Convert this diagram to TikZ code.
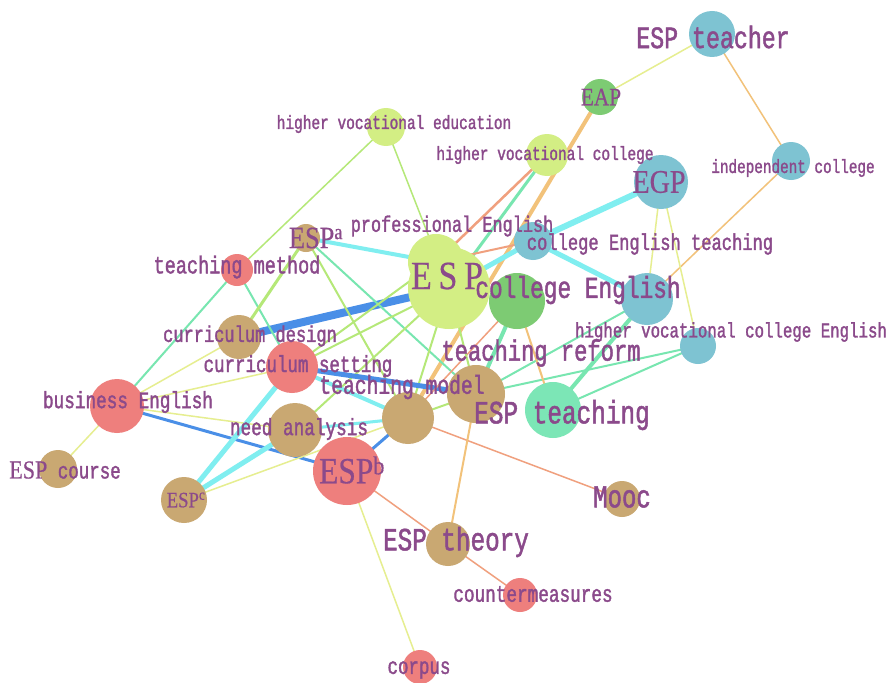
\documentclass[tikz,border=0pt]{standalone}
\usepackage{fontspec}
\setmainfont{Liberation Mono}[FakeStretch=0.75,FakeBold=1.5]
\newfontfamily\espf{Liberation Serif}[FakeStretch=0.85,FakeBold=0.5]
\definecolor{cred}{HTML}{EE7F7D}
\definecolor{ctan}{HTML}{C9A872}
\definecolor{cyg}{HTML}{D3EE84}
\definecolor{cblue}{HTML}{7EC3D2}
\definecolor{cgreen}{HTML}{7DCB73}
\definecolor{cmint}{HTML}{7CE6B6}
\definecolor{ecyan}{HTML}{80EEF0}
\definecolor{eblue}{HTML}{4A8FE7}
\definecolor{emint}{HTML}{78E6B0}
\definecolor{eyg}{HTML}{B5E878}
\definecolor{eyel}{HTML}{E6EE90}
\definecolor{eorange}{HTML}{F2C27A}
\definecolor{esalmon}{HTML}{F0A07E}
\definecolor{labc}{HTML}{8B4A8B}
\pgfdeclarelayer{bg}
\pgfsetlayers{bg,main}
\tikzset{
  dot/.style={circle,fill=#1,draw=none,inner sep=0pt},
  lbl/.style={text=labc,inner sep=0pt,font=\fontsize{#1}{#1}\selectfont},
  ed/.style args={#1/#2}{draw=#1,line width=#2pt},
}
\newcommand\lab[4]{\node[lbl=#3] (#1) at (#2) {#4};}
\newcommand\sesp[2]{{\espf\fontsize{#1}{#1}\selectfont #2}}
\begin{document}
\begin{tikzpicture}[x=1pt,y=-1pt]
\begin{pgfonlayer}{bg}
\fill[white] (0,0) rectangle (890,682);
\end{pgfonlayer}
\useasboundingbox (0,0) rectangle (890,682);
% circles
\path
 (712,34)  node[dot=cblue,minimum size=46pt] (tea) {}
 (600,97)  node[dot=cgreen,minimum size=36pt] (eap) {}
 (386,127) node[dot=cyg,minimum size=38pt] (hve) {}
 (547,155) node[dot=cyg,minimum size=42pt] (hvc) {}
 (791,161) node[dot=cblue,minimum size=38pt] (ind) {}
 (661,182) node[dot=cblue,minimum size=54pt] (egp) {}
 (306,238) node[dot=ctan,minimum size=28pt] (espa) {}
 (436,262) node[dot=cyg,minimum size=56pt] (prof) {}
 (533,241) node[dot=cblue,minimum size=38pt] (cet) {}
 (237,270) node[dot=cred,minimum size=32pt] (tm) {}
 (449,288) node[dot=cyg,minimum size=82pt] (esp) {}
 (517,301) node[dot=cgreen,minimum size=56pt] (ceg) {}
 (647,299) node[dot=cblue,minimum size=52pt] (ceb) {}
 (698,346) node[dot=cblue,minimum size=36pt] (hvce) {}
 (239,337) node[dot=ctan,minimum size=44pt] (cd) {}
 (292,367) node[dot=cred,minimum size=52pt] (cs) {}
 (117,406) node[dot=cred,minimum size=54pt] (be) {}
 (295,430) node[dot=ctan,minimum size=54pt] (na) {}
 (408,418) node[dot=ctan,minimum size=52pt] (tmod) {}
 (476,394) node[dot=ctan,minimum size=58pt] (tref) {}
 (553,410) node[dot=cmint,minimum size=56pt] (espt) {}
 (347,471) node[dot=cred,minimum size=68pt] (espb) {}
 (58,469)  node[dot=ctan,minimum size=38pt] (course) {}
 (184,500) node[dot=ctan,minimum size=46pt] (espc) {}
 (622,499) node[dot=ctan,minimum size=36pt] (mooc) {}
 (448,544) node[dot=ctan,minimum size=44pt] (theory) {}
 (520,595) node[dot=cred,minimum size=34pt] (counter) {}
 (420,667) node[dot=cred,minimum size=34pt] (corpus) {};
% edges
\begin{pgfonlayer}{bg}
\foreach \a/\b/\c/\w in {
 tea/eap/eyel/1.5, tea/ind/eorange/1.5, eap/tmod/eorange/4, ind/ceb/eorange/1.5,
 egp/cet/ecyan/6, cet/ceb/ecyan/5, cet/esp/ecyan/5, egp/ceb/eyel/1.5, egp/hvce/eyel/1.5,
 hvc/prof/esalmon/2.5, hvc/esp/emint/3, prof/cet/esalmon/2, hve/tm/eyg/1.5, hve/esp/eyg/1.5,
 espa/prof/ecyan/4, esp/cd/eblue/8, tm/cs/emint/2, tm/be/emint/2, espa/cd/eyg/3,
 espa/tmod/eyg/2, espa/tref/emint/2, esp/cs/eyg/2, prof/cs/eyg/2, esp/na/eyg/2, esp/tmod/eyg/2,
 cs/tref/eblue/5, be/espb/eblue/3, be/cd/eyel/1.5, be/cs/eyel/1.5, be/course/eyel/1.5,
 be/na/eyel/1.5, espc/cs/ecyan/5, espc/na/ecyan/5, espc/tmod/eyel/1.5, cs/tmod/ecyan/4,
 na/tmod/ecyan/3, espb/tmod/eblue/3, espb/theory/esalmon/1.5, espb/corpus/eyel/1.5,
 tmod/mooc/esalmon/1.5, tref/theory/eorange/2, theory/counter/esalmon/1.5,
 tref/hvce/emint/2, espt/hvce/emint/2, espt/ceb/emint/4, tref/ceb/emint/2,
 ceg/espt/eorange/2, ceg/tref/emint/4, ceg/tmod/esalmon/1.5, esp/tref/eyg/2, tmod/tref/eyg/2}
 {\draw[ed=\c/\w] (\a.center) -- (\b.center);}
\end{pgfonlayer}
% labels
\lab{lTea}{713,37}{31}{ESP teacher}
\lab{lEap}{601,97}{25}{\sesp{25}{EAP}}
\lab{lHve}{394,124}{19.3}{higher vocational education}
\lab{lHvc}{545,155}{19.3}{higher vocational college}
\lab{lInd}{793,168}{19.1}{independent college}
\lab{lEgp}{659,182}{33}{\sesp{33}{EGP}}
\lab{lEspa}{316,238}{31}{\sesp{31}{ESP\textsuperscript{a}}}
\lab{lProf}{452,226}{22.5}{professional English}
\lab{lCet}{650,244}{22.8}{college English teaching}
\lab{lTm}{237,267}{24.7}{teaching method}
\lab{lEsp}{447,276}{40}{\sesp{40}{E\,S\,P}}
\lab{lCeg}{578,290}{30.4}{college English}
\lab{lHvce}{731,332}{21}{higher vocational college English}
\lab{lCd}{250,336}{22.7}{curriculum design}
\lab{lTref}{541,353}{29.5}{teaching reform}
\lab{lCs}{298,366}{23.3}{curriculum setting}
\lab{lTmod}{402,387}{26.2}{teaching model}
\lab{lBe}{128,402}{23.6}{business English}
\lab{lEspt}{562,415}{32.5}{ESP teaching}
\lab{lNa}{299,429}{23.6}{need analysis}
\lab{lEspb}{352,470}{37}{\sesp{37}{ESP\textsuperscript{b}}}
\lab{lCourse}{65,470}{23.3}{\sesp{26}{ESP} course}
\lab{lEspc}{186,500}{22}{\sesp{22}{ESP\textsuperscript{c}}}
\lab{lMooc}{622,497}{32}{Mooc}
\lab{lTheory}{456,542}{32.4}{ESP theory}
\lab{lCounter}{533,594}{23.6}{countermeasures}
\lab{lCorpus}{419,670}{23.3}{corpus}
\end{tikzpicture}
\end{document}
